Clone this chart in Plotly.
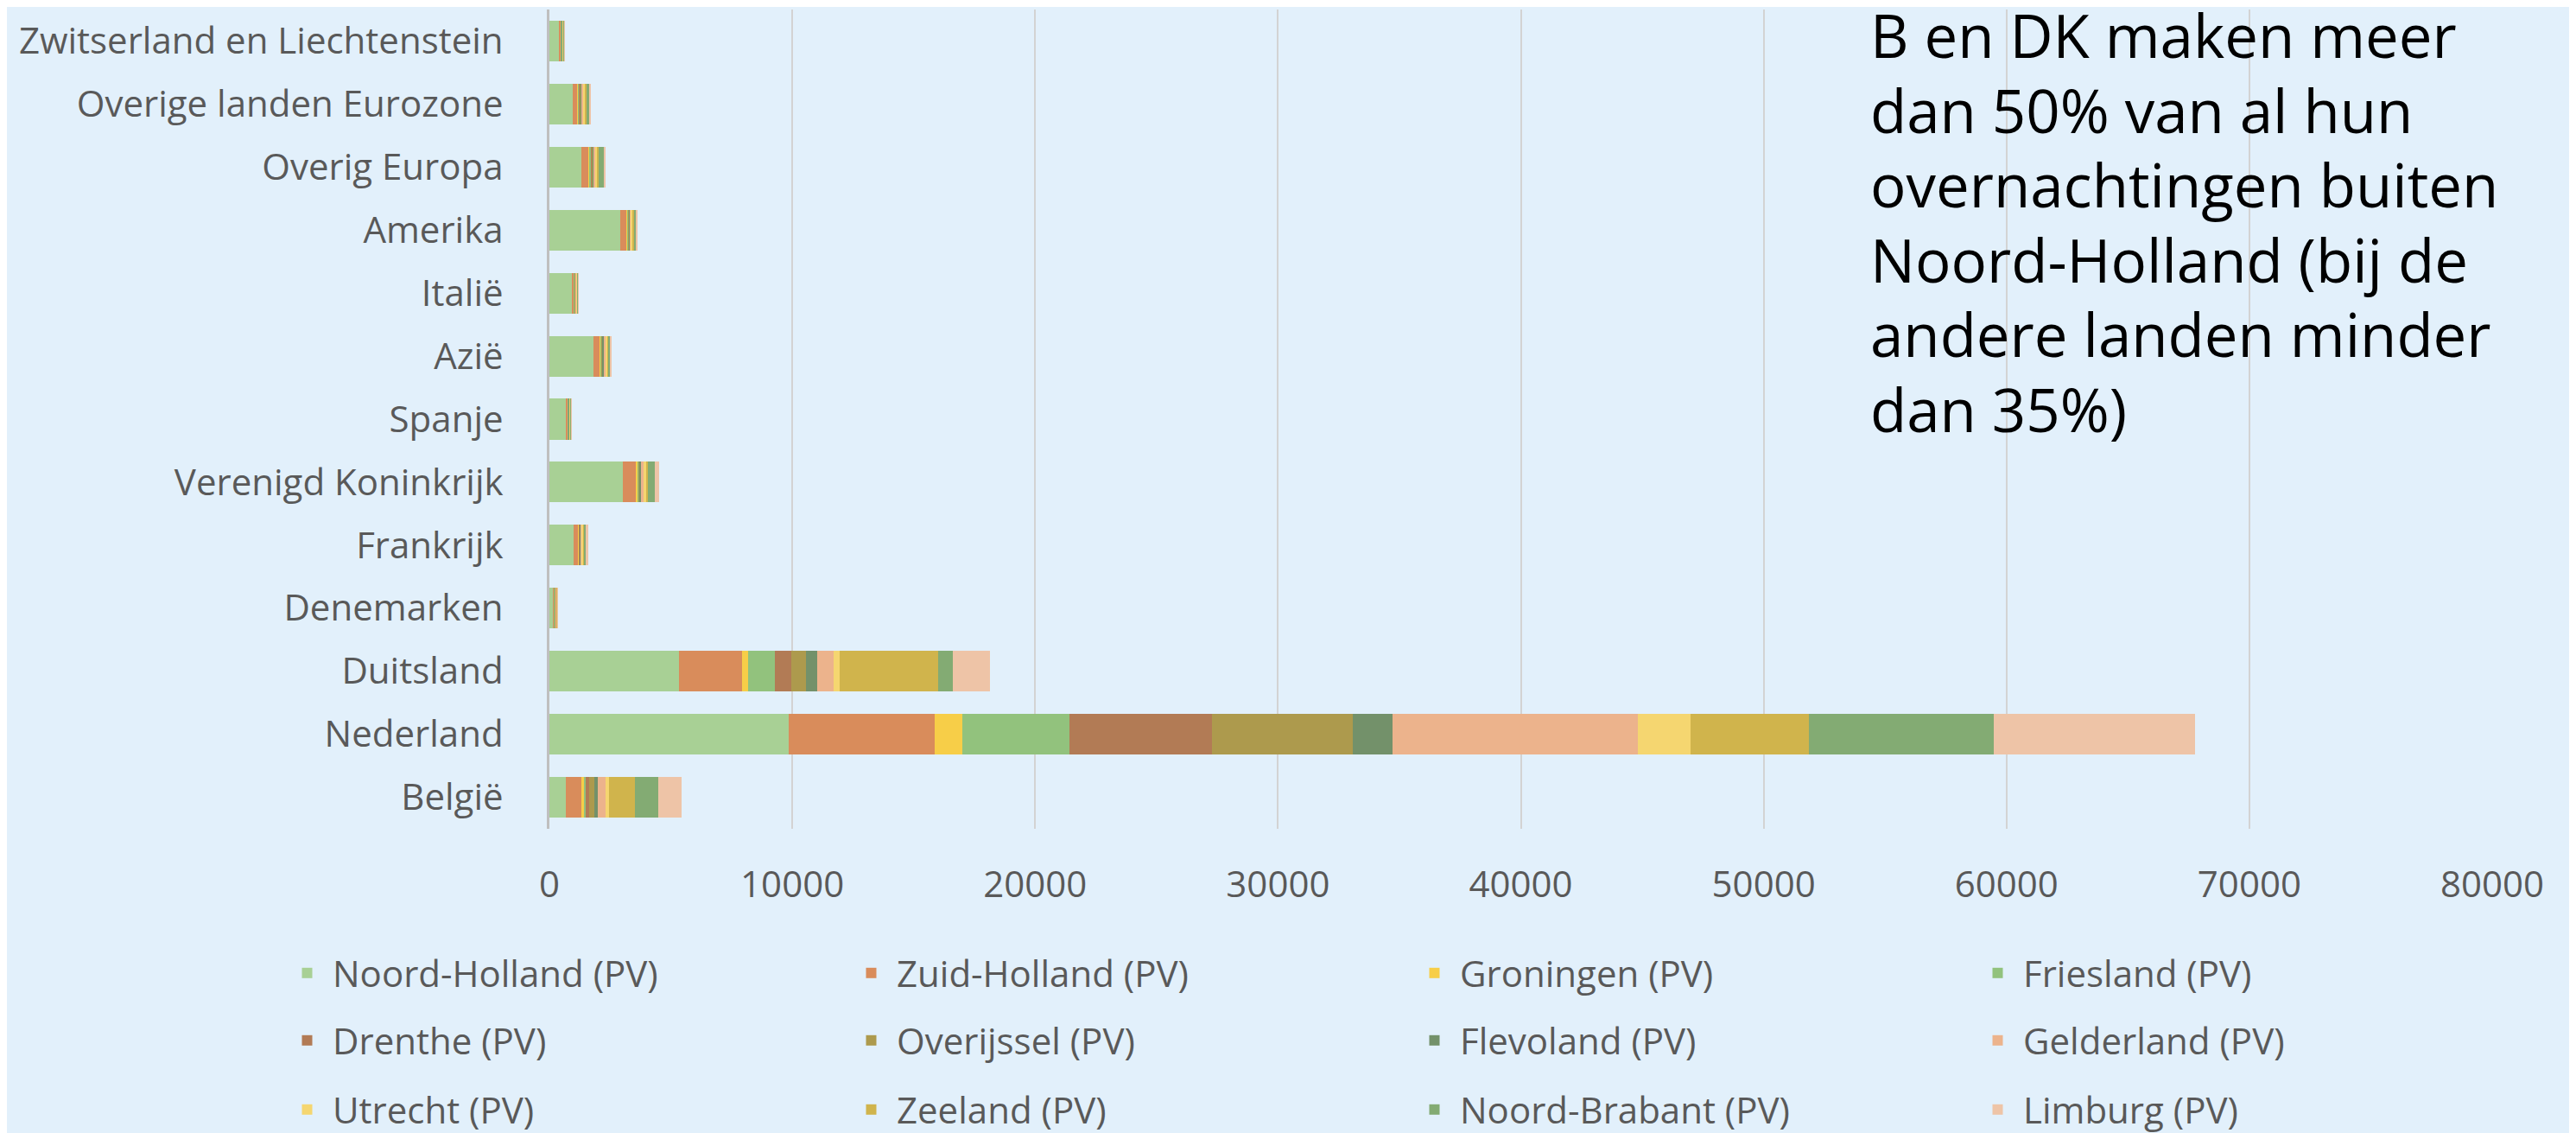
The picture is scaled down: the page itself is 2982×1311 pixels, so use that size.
import plotly.graph_objects as go

categories = ["België", "Nederland", "Duitsland", "Denemarken", "Frankrijk",
              "Verenigd Koninkrijk", "Spanje", "Azië", "Italië", "Amerika",
              "Overig Europa", "Overige landen Eurozone", "Zwitserland en Liechtenstein"]

provinces = ["Noord-Holland (PV)", "Zuid-Holland (PV)", "Groningen (PV)", "Friesland (PV)",
             "Drenthe (PV)", "Overijssel (PV)", "Flevoland (PV)", "Gelderland (PV)",
             "Utrecht (PV)", "Zeeland (PV)", "Noord-Brabant (PV)", "Limburg (PV)"]

noord_holland = [666, 9855, 5324, 150, 983, 3024, 662, 1802, 912, 2930, 1328, 972, 390]
zuid_holland = [684, 6025, 2592, 40, 226, 559, 107, 296, 106, 261, 296, 200, 85]
groningen = [63, 1129, 254, 10, 15, 47, 8, 15, 10, 20, 40, 20, 10]
friesland = [96, 4405, 1114, 25, 20, 40, 12, 30, 15, 30, 50, 40, 15]
drenthe = [143, 5865, 667, 10, 10, 25, 8, 20, 10, 20, 30, 30, 10]
overijssel = [206, 5787, 604, 15, 20, 35, 12, 40, 20, 30, 50, 40, 20]
flevoland = [128, 1656, 477, 10, 15, 30, 10, 40, 15, 20, 30, 30, 10]
gelderland = [332, 10111, 684, 25, 40, 107, 20, 60, 25, 50, 80, 70, 25]
utrecht = [146, 2161, 222, 15, 80, 130, 25, 100, 30, 80, 60, 70, 15]
zeeland = [1051, 4865, 4070, 20, 20, 60, 15, 30, 15, 30, 60, 40, 15]
noord_brabant = [955, 7632, 588, 15, 100, 297, 25, 90, 30, 100, 200, 110, 10]
limburg = [986, 8265, 1541, 20, 59, 166, 18, 52, 20, 47, 75, 100, 10]

series = [noord_holland, zuid_holland, groningen, friesland, drenthe, overijssel,
          flevoland, gelderland, utrecht, zeeland, noord_brabant, limburg]

colors = ["#A8D095", "#D98C5B", "#F7CE48", "#92C27D", "#B27B55", "#AD9A4D",
          "#73916A", "#ECB38C", "#F5D670", "#D0B44C", "#83AB73", "#EEC4A7"]

x_ticks = [0, 10000, 20000, 30000, 40000, 50000, 60000, 70000, 80000]

note_lines = ["B en DK maken meer", "dan 50% van al hun", "overnachtingen buiten",
              "Noord-Holland (bij de", "andere landen minder", "dan 35%)"]

BG = "#E2F0FB"
TXT = "#595959"
FONT = "Open Sans"
FS = 42

W, H = 2982, 1311
ML, MR, MT, MB = 628, 105, 3, 360

# legend grid (4 columns x 3 rows), in container pixels
col_x = [318, 971, 1623, 2275]
row_y = [1118, 1196, 1276]

fig = go.Figure()
legend_layouts = {}
for i, (name, vals, col) in enumerate(zip(provinces, series, colors)):
    lid = "legend" if i == 0 else f"legend{i + 1}"
    fig.add_trace(go.Bar(
        y=categories, x=vals, name=name, orientation="h",
        marker=dict(color=col, line=dict(width=0)),
        legend=lid,
    ))
    r, c = divmod(i, 4)
    legend_layouts[lid] = dict(
        orientation="h", xref="container", yref="container",
        x=col_x[c] / W, y=1 - row_y[r] / H, xanchor="left", yanchor="middle",
        font=dict(family=FONT, size=FS, color=TXT),
        itemwidth=49, bgcolor="rgba(0,0,0,0)",
    )

fig.update_layout(
    width=W, height=H,
    barmode="stack", bargap=0.355,
    paper_bgcolor=BG, plot_bgcolor=BG,
    margin=dict(l=ML, r=MR, t=MT, b=MB),
    font=dict(family=FONT, size=FS, color=TXT),
    xaxis=dict(range=[0, 80000], tickvals=x_ticks, ticktext=[str(v) for v in x_ticks],
               showgrid=True, gridcolor="#D3D3D3", gridwidth=1.5, zeroline=False,
               showline=False, ticks="", ticklabelstandoff=36,
               tickfont=dict(family=FONT, size=FS, color=TXT)),
    yaxis=dict(categoryorder="array", categoryarray=categories,
               showline=True, linecolor="#BFBFBF", linewidth=3,
               showgrid=False, ticks="", ticklabelstandoff=42,
               tickfont=dict(family=FONT, size=FS, color=TXT)),
    showlegend=True,
    **legend_layouts,
)

plot_w = W - ML - MR
for k, line in enumerate(note_lines):
    fig.add_annotation(
        text=line, xref="paper", yref="paper",
        x=(2155 - ML) / plot_w, y=1.0, xanchor="left", yanchor="middle",
        align="left", showarrow=False, yshift=-(32 - MT) - k * 86.5,
        font=dict(family=FONT, size=69, color="#000000"),
    )

fig.write_html("out.html")
